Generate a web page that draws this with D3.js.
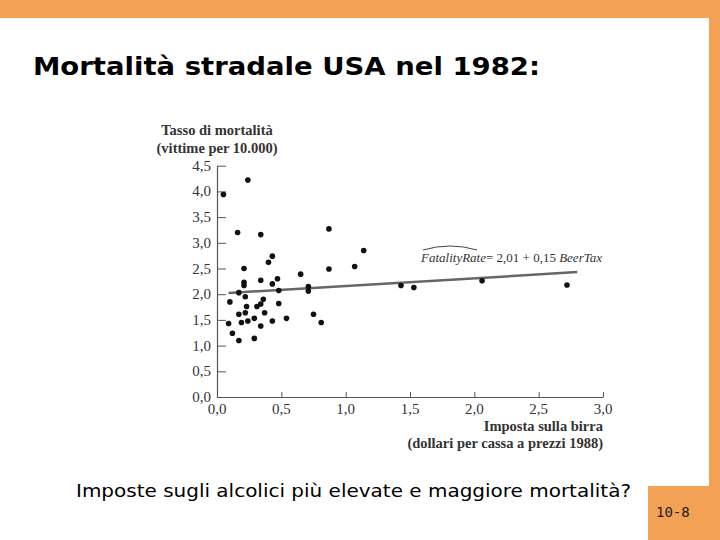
<!DOCTYPE html>
<html><head><meta charset="utf-8">
<script src="https://cdn.jsdelivr.net/npm/d3@7"></script>
<style>body{margin:0;background:#fff}svg{display:block}</style>
</head><body>
<svg id="c" width="720" height="540"></svg>
<script>
const beerTax = [0.24,0.05,0.16,0.34,0.43,0.40,0.21,0.21,0.21,0.34,0.47,0.43,0.65,0.71,0.71,0.17,0.48,0.22,0.10,0.36,0.34,0.23,0.31,0.48,0.22,0.17,0.37,0.09,0.19,0.24,0.29,0.43,0.54,0.34,0.12,0.17,0.29,0.87,1.14,0.87,1.07,1.43,1.53,0.75,0.81,2.06,2.72];
const fatalityRate = [4.22,3.94,3.20,3.16,2.74,2.62,2.50,2.23,2.17,2.27,2.30,2.20,2.39,2.15,2.06,2.03,2.07,1.95,1.85,1.90,1.81,1.76,1.76,1.82,1.64,1.61,1.64,1.43,1.45,1.48,1.53,1.48,1.53,1.38,1.24,1.10,1.14,3.27,2.85,2.49,2.54,2.17,2.13,1.61,1.45,2.26,2.18];
const xTicks = [0,0.5,1,1.5,2,2.5,3];
const yTicks = [0,0.5,1,1.5,2,2.5,3,3.5,4,4.5];
const fitIntercept = 2.01, fitSlope = 0.15;
const fitRange = [0.09, 2.8];

const svg = d3.select("#c");
const orange = "#F2A155";
svg.append("rect").attr("x",0).attr("y",0).attr("width",720).attr("height",18).attr("fill",orange);
svg.append("rect").attr("x",709).attr("y",0).attr("width",11).attr("height",540).attr("fill",orange);
svg.append("rect").attr("x",648).attr("y",486).attr("width",72).attr("height",54).attr("fill",orange);

svg.append("text").attr("x",33).attr("y",75).attr("font-family","DejaVu Sans").attr("font-weight","bold")
  .attr("font-size",24).attr("textLength",507).attr("lengthAdjust","spacingAndGlyphs").attr("fill","#000")
  .text("Mortalità stradale USA nel 1982:");
svg.append("text").attr("x",76).attr("y",497).attr("font-family","DejaVu Sans")
  .attr("font-size",18).attr("textLength",555).attr("lengthAdjust","spacingAndGlyphs").attr("fill","#000")
  .text("Imposte sugli alcolici più elevate e maggiore mortalità?");
svg.append("text").attr("x",656).attr("y",517).attr("font-family","DejaVu Sans Mono")
  .attr("font-size",14).attr("fill","#222").text("10-8");

const x = d3.scaleLinear().domain([0,3]).range([217,603]);
const y = d3.scaleLinear().domain([0,4.5]).range([397,165.7]);
const axisCol = "#555";
const fmt = d => d3.format(".1f")(d).replace(".",",");

const gx = svg.append("g").attr("transform","translate(0,397)")
  .call(d3.axisTop(x).tickValues(xTicks).tickSize(5).tickSizeOuter(0).tickFormat(fmt));
gx.selectAll("text").remove();
gx.selectAll("line").attr("stroke",axisCol);
gx.select(".domain").attr("stroke",axisCol).attr("stroke-width",1.2);
svg.append("g").selectAll("text").data(xTicks).join("text")
  .attr("x",d=>x(d)).attr("y",414).attr("text-anchor","middle")
  .attr("font-family","Liberation Serif").attr("font-size",15).attr("fill","#333").text(fmt);

const gy = svg.append("g").attr("transform","translate(217,0)")
  .call(d3.axisRight(y).tickValues(yTicks).tickSize(9).tickSizeOuter(0).tickFormat(fmt));
gy.selectAll("text").remove();
gy.selectAll("line").attr("stroke",axisCol);
gy.select(".domain").attr("stroke",axisCol).attr("stroke-width",1.2);
svg.append("g").selectAll("text").data(yTicks).join("text")
  .attr("x",211).attr("y",d=>y(d)+5).attr("text-anchor","end")
  .attr("font-family","Liberation Serif").attr("font-size",15).attr("fill","#333").text(fmt);

const serifB = t => t.attr("font-family","Liberation Serif").attr("font-weight","bold").attr("font-size",14.5).attr("fill","#333");
svg.append("text").attr("x",217).attr("y",135).attr("text-anchor","middle").call(serifB).text("Tasso di mortalità");
svg.append("text").attr("x",217).attr("y",153).attr("text-anchor","middle").call(serifB).text("(vittime per 10.000)");
svg.append("text").attr("x",603).attr("y",431).attr("text-anchor","end").call(serifB).text("Imposta sulla birra");
svg.append("text").attr("x",603).attr("y",448).attr("text-anchor","end").call(serifB).text("(dollari per cassa a prezzi 1988)");

// regression line
svg.append("line")
  .attr("x1",x(fitRange[0])).attr("y1",y(fitIntercept+fitSlope*fitRange[0]))
  .attr("x2",x(fitRange[1])).attr("y2",y(fitIntercept+fitSlope*fitRange[1]))
  .attr("stroke","#666").attr("stroke-width",2.5);

// points
svg.append("g").selectAll("circle").data(beerTax.map((b,i)=>[b,fatalityRate[i]])).join("circle")
  .attr("cx",d=>x(d[0])).attr("cy",d=>y(d[1])).attr("r",2.8).attr("fill","#111");

// equation
const eq = svg.append("text").attr("x",421).attr("y",262).attr("font-family","Liberation Serif")
  .attr("font-size",13).attr("fill","#333");
eq.append("tspan").attr("font-style","italic").text("FatalityRate");
eq.append("tspan").text("= 2,01 + 0,15 ");
eq.append("tspan").attr("font-style","italic").text("BeerTax");
svg.append("path").attr("d","M423,250 Q450,242 477,250").attr("fill","none").attr("stroke","#444").attr("stroke-width",1);
</script>
</body></html>
